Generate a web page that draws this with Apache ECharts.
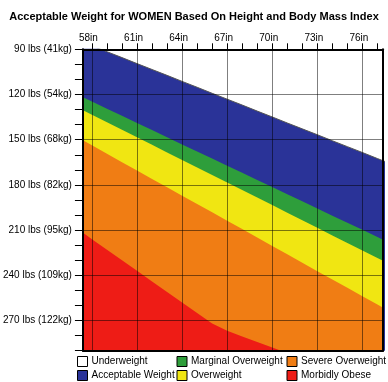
<!DOCTYPE html>
<html>
<head>
<meta charset="utf-8">
<script src="https://cdn.jsdelivr.net/npm/echarts@6/dist/echarts.min.js"></script>
<style>
html,body{margin:0;padding:0;background:#fff;}
#chart{width:388px;height:382px;}
</style>
</head>
<body>
<div id="chart"></div>
<script>
// Heights (inches)
var heights = [57,58,59,60,61,62,63,64,65,66,67,68,69,70,71,72,73,74,75,76,77,78];
// Boundary weights (lbs)
var underweightTop = [83.7,87.6,91.6,95.5,99.5,103.4,107.3,111.3,115.2,119.2,123.1,127.0,131.0,134.9,138.9,142.8,146.7,150.7,154.6,158.5,162.5,166.4];
var marginalTop = [119.9,124.7,129.4,134.1,138.9,143.6,148.3,153.1,157.8,162.5,167.2,172.0,176.7,181.4,186.2,190.9,195.6,200.4,205.1,209.8,214.6,219.3];
var overweightTop = [128.4,133.4,138.4,143.4,148.4,153.4,158.4,163.4,168.4,173.4,178.4,183.4,188.4,193.4,198.4,203.4,208.4,213.5,218.5,223.5,228.5,233.5];
var severeTop = [148.2,153.7,159.3,164.9,170.4,176.0,181.5,187.1,192.7,198.2,203.8,209.3,214.9,220.5,226.0,231.6,237.2,242.7,248.3,253.8,259.4,265.0];
var obeseTop = [208.9,216.0,223.0,230.0,237.0,244.0,251.0,258.0,265.0,272.0,276.8,280.5,284.2,287.9,291.6,295.3,299.0,302.7,306.4,310.1,313.8,317.5];

var categories = ['Underweight','Acceptable Weight','Marginal Overweight','Overweight','Severe Overweight','Morbidly Obese'];
var colors = ['#FFFFFF','#2A3398','#2E9E3B','#F0E612','#F07D14','#EE1C16'];

var xLabelValues = [58,61,64,67,70,73,76];
var xLabels = ['58in','61in','64in','67in','70in','73in','76in'];
var xMinorTicks = [58,59,60,61,62,63,64,65,66,67,68,69,70,71,72,73,74,75,76,77];
var yLabelValues = [90,120,150,180,210,240,270];
var yLabels = ['90 lbs (41kg)','120 lbs (54kg)','150 lbs (68kg)','180 lbs (82kg)','210 lbs (95kg)','240 lbs (109kg)','270 lbs (122kg)'];
var yGridValues = [120,150,180,210,240,270];

function pairs(arr){ return heights.map(function(h,i){ return [h, arr[i]]; }); }

var FONT = 'Liberation Sans, Arial, Helvetica, sans-serif';
var chart = echarts.init(document.getElementById('chart'), null, {renderer:'canvas'});

var bounds = [underweightTop, underweightTop, marginalTop, overweightTop, severeTop, obeseTop];
var series = categories.map(function(name, i){
  return {
    name: name,
    type: 'line',
    xAxisIndex: 0, yAxisIndex: 0,
    data: pairs(bounds[i]),
    showSymbol: false,
    symbol: 'none',
    smooth: false,
    clip: true,
    color: colors[i],
    itemStyle: {color: colors[i]},
    lineStyle: i === 1 ? {color: '#555', width: 1} : {width: 0, color: colors[i]},
    areaStyle: {color: colors[i], opacity: 1, origin: i === 0 ? 'start' : 'end'},
    z: 2 + i,
    silent: true
  };
});
series[5].markLine = {
  silent: true,
  symbol: ['none','none'],
  label: {show: false},
  lineStyle: {color: 'rgba(0,0,0,0.5)', width: 1, type: 'solid'},
  data: xLabelValues.map(function(v){ return {xAxis: v}; })
        .concat(yGridValues.map(function(v){ return {yAxis: v}; })),
  z: 20
};

function legend(names, left){
  return {
    data: names, left: left, top: 356, orient: 'vertical',
    icon: 'rect', itemWidth: 10, itemHeight: 10, itemGap: 3,
    padding: 0,
    selectedMode: false,
    itemStyle: {borderColor: '#000', borderWidth: 1},
    textStyle: {fontFamily: FONT, fontSize: 10, color: '#000', padding: [0,0,0,-1]}
  };
}

chart.setOption({
  animation: false,
  backgroundColor: '#fff',
  title: {
    text: 'Acceptable Weight for WOMEN Based On Height and Body Mass Index',
    left: 'center', top: 6,
    textStyle: {fontFamily: FONT, fontSize: 11, fontWeight: 'bold', color: '#000'}
  },
  legend: [
    legend(['Underweight','Acceptable Weight'], 77),
    legend(['Marginal Overweight','Overweight'], 176.5),
    legend(['Severe Overweight','Morbidly Obese'], 286.5)
  ],
  grid: {left: 82.7, right: 5, top: 49.3, bottom: 31.3, containLabel: false},
  xAxis: [{
    type: 'value', position: 'top', min: 57.4, max: 77.37, z: 10,
    axisLine: {show: true, onZero: false, lineStyle: {color: '#000', width: 2}},
    axisTick: {show: true, inside: false, length: 6, customValues: xMinorTicks, lineStyle: {color: '#000', width: 1}},
    axisLabel: {show: true, customValues: xLabelValues, margin: 6, padding: [0,7,0,0],
      fontFamily: FONT, fontSize: 10, color: '#000',
      formatter: function(v){ var k = xLabelValues.indexOf(Math.round(v)); return k >= 0 ? xLabels[k] : ''; }},
    splitLine: {show: false}
  },{
    type: 'value', position: 'bottom', min: 57.4, max: 77.37, z: 10,
    axisLine: {show: true, onZero: false, lineStyle: {color: '#000', width: 2}},
    axisTick: {show: false}, axisLabel: {show: false}, splitLine: {show: false}
  }],
  yAxis: [{
    type: 'value', inverse: true, min: 90, max: 290, interval: 10, z: 10,
    axisLine: {show: true, onZero: false, lineStyle: {color: '#000', width: 2}},
    axisTick: {show: true, inside: false, length: 8, lineStyle: {color: '#000', width: 1}},
    axisLabel: {margin: 11, fontFamily: FONT, fontSize: 10, color: '#000',
      formatter: function(v){ var k = yLabelValues.indexOf(v); return k >= 0 ? yLabels[k] : ''; }},
    splitLine: {show: false}
  },{
    type: 'value', inverse: true, min: 90, max: 290, position: 'right', z: 10,
    axisLine: {show: true, onZero: false, lineStyle: {color: '#000', width: 2}},
    axisTick: {show: false}, axisLabel: {show: false}, splitLine: {show: false}
  }],
  series: series
});
</script>
</body>
</html>
